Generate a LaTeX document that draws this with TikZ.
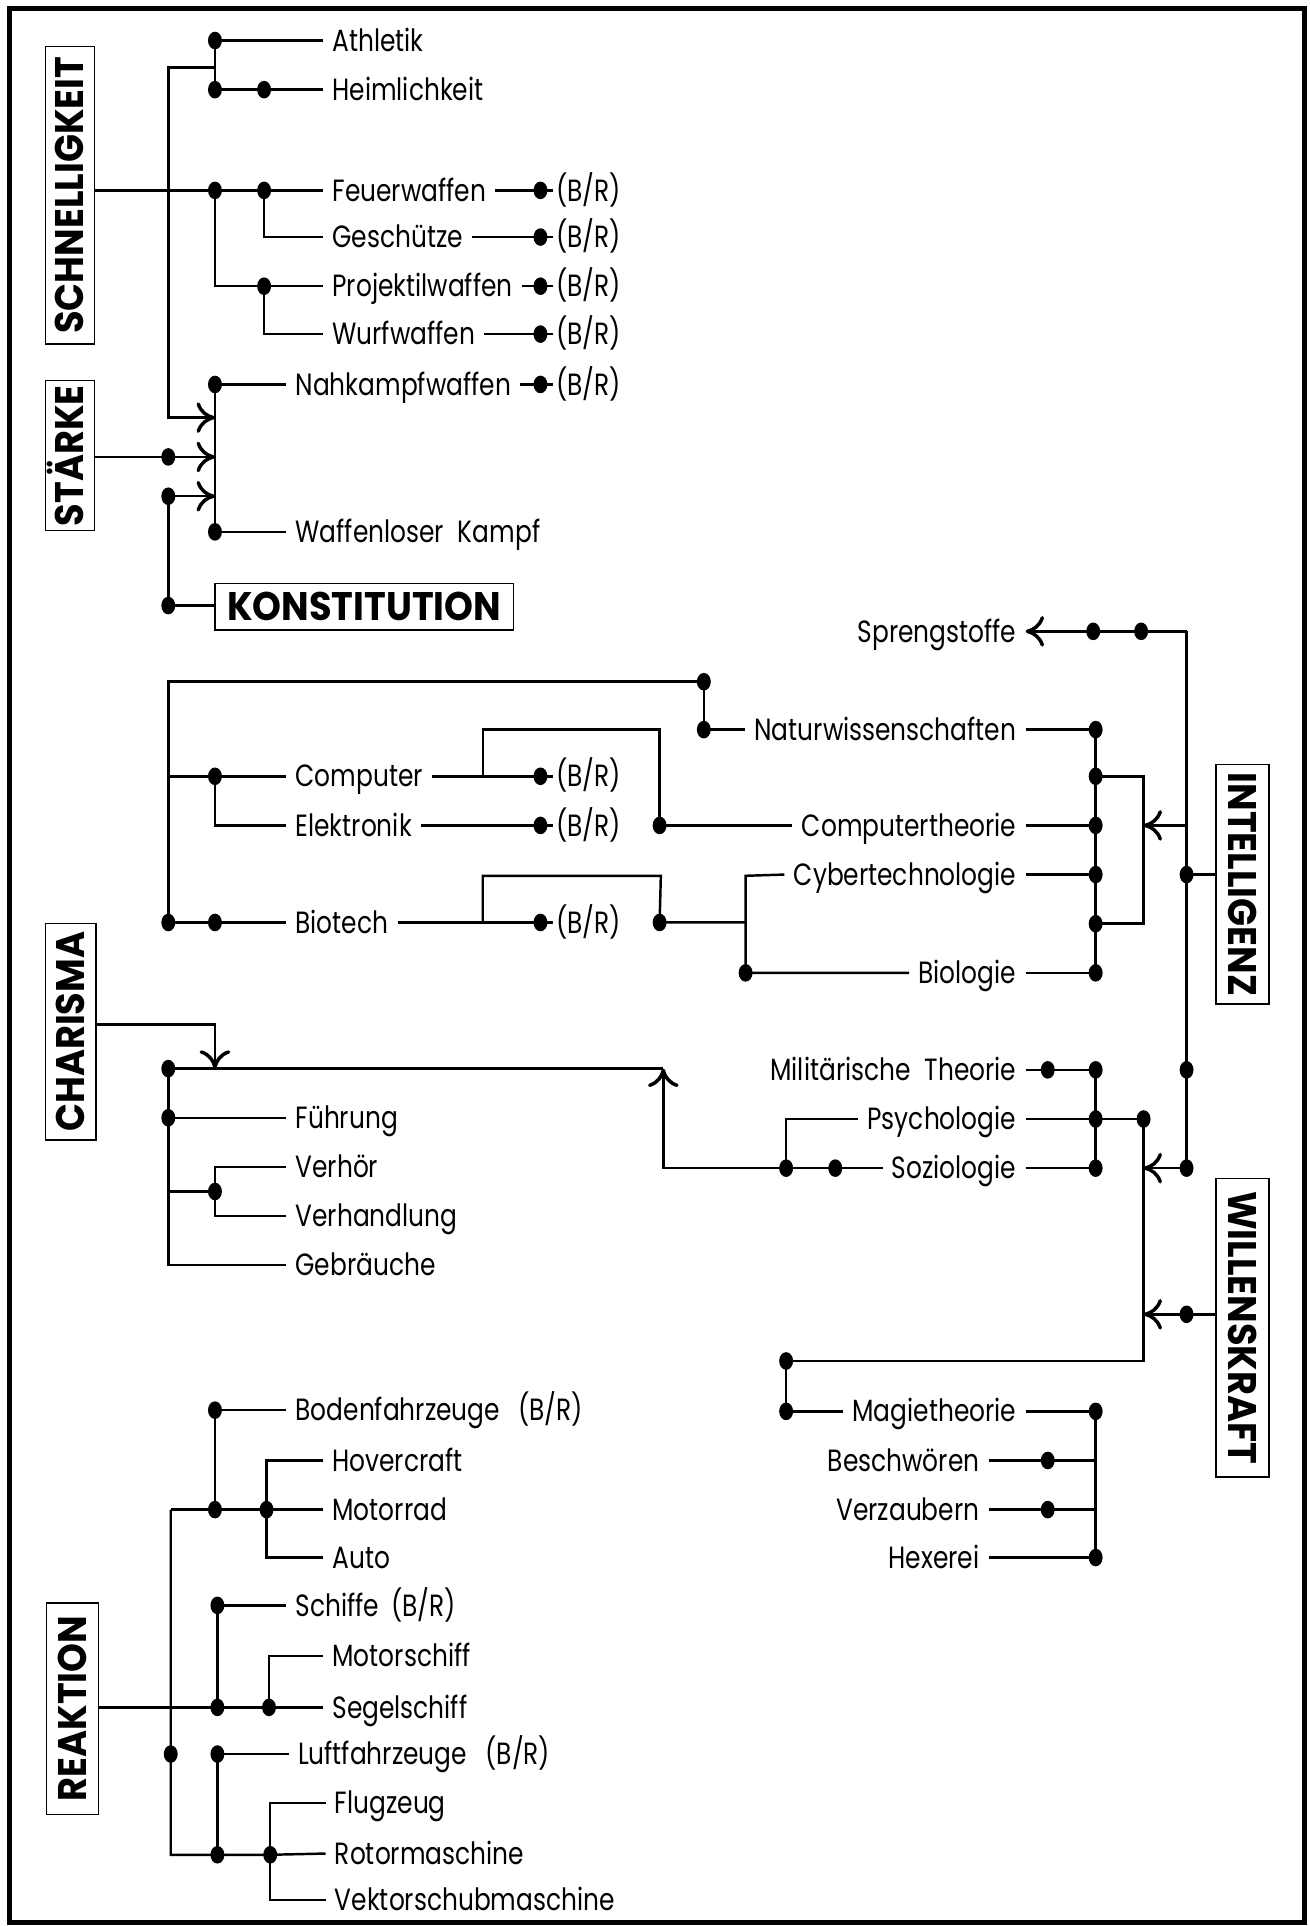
\documentclass[tikz,border=0pt]{standalone}
\usepackage{fontspec}
\setmainfont{Poppins}[FakeStretch=0.81]
\newfontfamily\lblfont{Poppins}[FakeStretch=0.92]
\usetikzlibrary{arrows.meta,shapes.geometric}
\begin{document}
\begin{tikzpicture}[x=0.6pt,y=-0.6pt,line width=1.2pt,
  jd/.style={ellipse,fill=black,draw=none,inner sep=0pt,minimum width=6.8pt,minimum height=8.6pt},
  txt/.style={inner xsep=4pt,inner ysep=0pt,text height=10.4pt,text depth=0pt,font=\fontsize{15pt}{18pt}\selectfont},
  tw/.style={txt,anchor=west},
  te/.style={txt,anchor=east},
  brt/.style={txt,anchor=west,inner xsep=1pt},
  bigbox/.style={draw,line width=0.7pt,inner sep=0pt,text height=13.6pt,text depth=0pt,font=\lblfont\fontsize{19.5pt}{22pt}\selectfont\bfseries},
  arr/.style={-{Computer Modern Rightarrow[length=9pt,width=15pt,line width=1.7pt]}}]
\useasboundingbox (0,0) rectangle (1066,1568);
\draw[line width=2.4pt] (8,7) rectangle (1062,1565);

% ---------- label boxes ----------
\node[bigbox,rotate=90,minimum width=145.2pt,minimum height=24pt] (schnell) at (57,159) {SCHNELLIGKEIT};
\node[bigbox,rotate=90,minimum width=73.2pt,minimum height=24pt] (staerke) at (57,371) {STÄRKE};
\node[bigbox,minimum width=145.8pt,minimum height=22.8pt] (konst) at (296.5,494) {KONSTITUTION};
\node[bigbox,rotate=90,minimum width=105.6pt,minimum height=24.6pt] (char) at (57.5,840) {CHARISMA};
\node[bigbox,rotate=90,minimum width=103.2pt,minimum height=25.2pt] (reak) at (59,1391) {REAKTION};
\node[bigbox,rotate=-90,minimum width=117pt,minimum height=25.8pt] (intel) at (1011.5,720) {INTELLIGENZ};
\node[bigbox,rotate=-90,minimum width=145.8pt,minimum height=25.8pt] (will) at (1011.5,1081) {WILLENSKRAFT};

% ---------- Schnelligkeit ----------
\node[jd] (a1) at (175,33) {};
\node[jd] (a2) at (175,73) {};
\node[jd] (a3) at (215,73) {};
\coordinate (a0) at (175,55);
\coordinate (s0) at (137,55);
\node[tw] (ath) at (263,33) {Athletik};
\node[tw] (heim) at (263,73) {Heimlichkeit};
\draw (a1.center) -- (ath.west);
\draw (a2.center) -- (heim.west);
\draw (a1.center) -- (a2.center);

\node[jd] (f1) at (175,155) {};
\node[jd] (f2) at (215,155) {};
\node[jd] (f3) at (215,233) {};
\node[tw] (feuer) at (263,155) {Feuerwaffen};
\node[tw] (gesch) at (263,193) {Geschütze};
\node[tw] (proj) at (263,233) {Projektilwaffen};
\node[tw] (wurf) at (263,272) {Wurfwaffen};
\draw (schnell.south |- f1) -- (f1.center) -- (feuer.west);
\draw (f2.center) |- (gesch.west);
\draw (f1.center) |- (proj.west);
\draw (f3.center) |- (wurf.west);
\node[jd] (fb) at (440,155) {};
\node[jd] (gb) at (440,193) {};
\node[jd] (pb) at (440,233) {};
\node[jd] (wb) at (440,272) {};
\node[brt] (feuerb) at (450,155) {(B/R)};
\node[brt] (geschb) at (450,193) {(B/R)};
\node[brt] (projb) at (450,233) {(B/R)};
\node[brt] (wurfb) at (450,272) {(B/R)};
\draw (feuer.east) -- (feuerb.west);
\draw (gesch.east) -- (geschb.west);
\draw (proj.east) -- (projb.west);
\draw (wurf.east) -- (wurfb.west);

% ---------- Staerke ----------
\node[jd] (k0) at (175,313) {};
\node[jd] (k4) at (175,433) {};
\coordinate (k1) at (175,340);
\coordinate (k2) at (175,372);
\coordinate (k3) at (175,404);
\node[tw] (nah) at (233,313) {Nahkampfwaffen};
\node[tw] (waff) at (233,433) {Waffenloser\hspace{0.45em}Kampf};
\draw (k0.center) -- (nah.west);
\draw (k4.center) -- (waff.west);
\draw (k0.center) -- (k4.center);
\node[jd] (nb) at (440,313) {};
\node[brt] (nahb) at (450,313) {(B/R)};
\draw (nah.east) -- (nahb.west);
\draw[arr] (a0) -- (s0) |- (k1);
\node[jd] (st1) at (137,372) {};
\node[jd] (st2) at (137,404) {};
\node[jd] (st3) at (137,493) {};
\draw (staerke.south |- st1) -- (st1.center);
\draw[arr] (st1.center) -- (k2);
\draw[arr] (st2.center) -- (k3);
\draw (st2.center) -- (st3.center) -- (st3 -| konst.west);

% ---------- Intelligenz ----------
\node[jd] (i0) at (966,712) {};
\node[jd] (i1) at (966,871) {};
\node[jd] (i2) at (966,951) {};
\coordinate (itop) at (966,514);
\coordinate (i3) at (966,672);
\draw (intel.south |- i0) -- (i0.center);
\draw (itop) -- (i2.center);
\node[jd] (sp1) at (929,514) {};
\node[jd] (sp2) at (890,514) {};
\node[te] (spreng) at (835,514) {Sprengstoffe};
\draw[arr] (itop) -- (sp1.center) -- (sp2.center) -- (spreng.east);

\node[jd] (r1) at (892,594) {};
\node[jd] (r2) at (892,632) {};
\node[jd] (r3) at (892,672) {};
\node[jd] (r4) at (892,712) {};
\node[jd] (r5) at (892,752) {};
\node[jd] (r6) at (892,792) {};
\draw (r1.center) -- (r6.center);
\coordinate (bkt) at (931,632);
\coordinate (bkm) at (931,672);
\coordinate (bkb) at (931,752);
\draw (r2.center) -- (bkt) -- (bkb) -- (r5.center);
\draw[arr] (i3) -- (bkm);

\node[te] (natur) at (835,594) {Naturwissenschaften};
\node[jd] (nw1) at (573,594) {};
\node[jd] (nw2) at (573,555) {};
\coordinate (c0) at (137,555);
\node[jd] (bt1) at (137,751) {};
\draw (natur.east) -- (r1.center);
\draw (nw1.center) -- (natur.west);
\draw (nw1.center) -- (nw2.center) -- (c0) -- (bt1.center);

\coordinate (cm0) at (137,632);
\node[jd] (cm1) at (175,632) {};
\node[tw] (comp) at (233,632) {Computer};
\node[tw] (elek) at (233,672) {Elektronik};
\draw (cm0) -- (cm1.center) -- (comp.west);
\draw (cm1.center) |- (elek.west);
\node[jd] (cmb) at (440,632) {};
\node[jd] (elb) at (440,672) {};
\node[brt] (compb) at (450,632) {(B/R)};
\node[brt] (elekb) at (450,672) {(B/R)};
\draw (comp.east) -- (compb.west);
\draw (elek.east) -- (elekb.west);
\coordinate (cj) at (393,632);
\coordinate (cjt) at (537,594);
\node[jd] (ct1) at (537,672) {};
\node[te] (ctheo) at (835,672) {Computertheorie};
\draw (cj) |- (cjt) -- (ct1.center) -- (ctheo.west);
\draw (ctheo.east) -- (r3.center);

\node[jd] (bt2) at (175,751) {};
\node[tw] (bio) at (233,751) {Biotech};
\draw (bt1.center) -- (bt2.center) -- (bio.west);
\node[jd] (btb) at (440,751) {};
\node[brt] (biob) at (450,751) {(B/R)};
\draw (bio.east) -- (biob.west);
\coordinate (bj) at (393,751);
\coordinate (bjt) at (538,713);
\node[jd] (by1) at (537,751) {};
\coordinate (cy0) at (607,751);
\coordinate (cy1) at (607,713);
\node[jd] (cy2) at (607,792) {};
\draw (bj) |- (bjt) -- (by1.center) -- (cy0);
\node[te] (cyber) at (835,712) {Cybertechnologie};
\node[te] (biol) at (835,792) {Biologie};
\draw (cyber.west) -- (cy1) -- (cy2.center) -- (biol.west);
\draw (cyber.east) -- (r4.center);
\draw (biol.east) -- (r6.center);

% ---------- Charisma ----------
\coordinate (ch1) at (175,834);
\coordinate (ch2) at (175,870);
\draw[arr] (char.south |- ch1) -- (ch1) -- (ch2);
\node[jd] (h0) at (137,870) {};
\coordinate (h9) at (540,870);
\coordinate (h8) at (540,951);
\draw (h0.center) -- (h9);
\node[jd] (h1) at (137,910) {};
\coordinate (h2) at (137,970);
\node[jd] (h3) at (175,970) {};
\coordinate (h4) at (137,1030);
\node[tw] (fuehr) at (233,910) {Führung};
\node[tw] (verh) at (233,950) {Verhör};
\node[tw] (verha) at (233,990) {Verhandlung};
\node[tw] (geb) at (233,1030) {Gebräuche};
\draw (h0.center) -- (h4) -- (geb.west);
\draw (h1.center) -- (fuehr.west);
\draw (h2) -- (h3.center);
\draw (verh.west) -| (h3.center) |- (verha.west);

\node[te] (milt) at (835,871) {Militärische\hspace{0.45em}Theorie};
\node[jd] (m1) at (853,871) {};
\node[jd] (m2) at (892,871) {};
\draw (milt.east) -- (m2.center);
\node[te] (psy) at (835,911) {Psychologie};
\node[jd] (p1) at (892,911) {};
\node[jd] (p2) at (931,911) {};
\draw (psy.east) -- (p2.center);
\node[te] (soz) at (835,951) {Soziologie};
\node[jd] (s1) at (892,951) {};
\draw (soz.east) -- (s1.center);
\draw (m2.center) -- (s1.center);
\node[jd] (so1) at (640,951) {};
\node[jd] (so2) at (680,951) {};
\draw (so1.center) -- (soz.west);
\draw (so1.center) |- (psy.west);
\draw[arr] (so1.center) -- (h8) -- (h9);

% ---------- Willenskraft ----------
\coordinate (w1) at (931,951);
\coordinate (w2) at (931,1070);
\coordinate (w3) at (931,1108);
\node[jd] (mg0) at (640,1108) {};
\node[jd] (mg1) at (640,1149) {};
\draw (p2.center) -- (w3) -- (mg0.center);
\draw[arr] (i2.center) -- (w1);
\node[jd] (wl) at (966,1070) {};
\draw (will.south |- wl) -- (wl.center);
\draw[arr] (wl.center) -- (w2);
\node[te] (magie) at (835,1149) {Magietheorie};
\draw (mg0.center) -- (mg1.center) -- (magie.west);
\node[jd] (mg2) at (892,1149) {};
\draw (magie.east) -- (mg2.center);
\node[te] (besch) at (805,1189) {Beschwören};
\node[te] (verz) at (805,1229) {Verzaubern};
\node[te] (hex) at (805,1268) {Hexerei};
\node[jd] (bs1) at (853,1189) {};
\node[jd] (vz1) at (853,1229) {};
\node[jd] (hx1) at (892,1268) {};
\coordinate (bs2) at (892,1189);
\coordinate (vz2) at (892,1229);
\draw (besch.east) -- (bs2);
\draw (verz.east) -- (vz2);
\draw (hex.east) -- (hx1.center);
\draw (mg2.center) -- (hx1.center);

% ---------- Reaktion ----------
\node[jd] (rs1) at (177,1390) {};
\node[jd] (rs2) at (219,1390) {};
\node[tw] (segel) at (263,1390) {Segelschiff};
\draw (reak.south |- rs1) -- (rs1.center) -- (rs2.center) -- (segel.west);
\coordinate (rv0) at (139,1229);
\coordinate (rv9) at (139,1510);
\node[jd] (rvd) at (139,1428) {};
\node[jd] (ro1) at (175,1229) {};
\node[jd] (ro2) at (217,1229) {};
\node[tw] (motorr) at (263,1229) {Motorrad};
\node[jd] (rb1) at (177,1510) {};
\node[jd] (rb2) at (220,1510) {};
\node[tw] (rotor) at (265,1509) {Rotormaschine};
\draw (rv0) -- (rv9) -- (rb1.center) -- (rb2.center) -- (rotor.west);
\draw (rv0) -- (ro1.center) -- (ro2.center) -- (motorr.west);
\node[jd] (bo1) at (175,1148) {};
\node[tw] (boden) at (233,1148) {Bodenfahrzeuge\hspace{0.6em}(B/R)};
\draw (ro1.center) -- (bo1.center) -- (boden.west);
\node[tw] (hover) at (263,1189) {Hovercraft};
\node[tw] (auto) at (263,1268) {Auto};
\draw (hover.west) -| (ro2.center) |- (auto.west);
\node[jd] (sc1) at (177,1307) {};
\node[tw] (schiff) at (233,1307) {Schiffe\hspace{0.4em}(B/R)};
\draw (rs1.center) -- (sc1.center) -- (schiff.west);
\node[tw] (motsch) at (263,1348) {Motorschiff};
\draw (rs2.center) |- (motsch.west);
\node[jd] (lf1) at (177,1428) {};
\node[tw] (luft) at (235,1428) {Luftfahrzeuge\hspace{0.6em}(B/R)};
\draw (lf1.center) -- (luft.west);
\draw (lf1.center) -- (rb1.center);
\node[tw] (flug) at (265,1468) {Flugzeug};
\node[tw] (vektor) at (265,1547) {Vektorschubmaschine};
\draw (flug.west) -| (rb2.center) |- (vektor.west);
\end{tikzpicture}
\end{document}
